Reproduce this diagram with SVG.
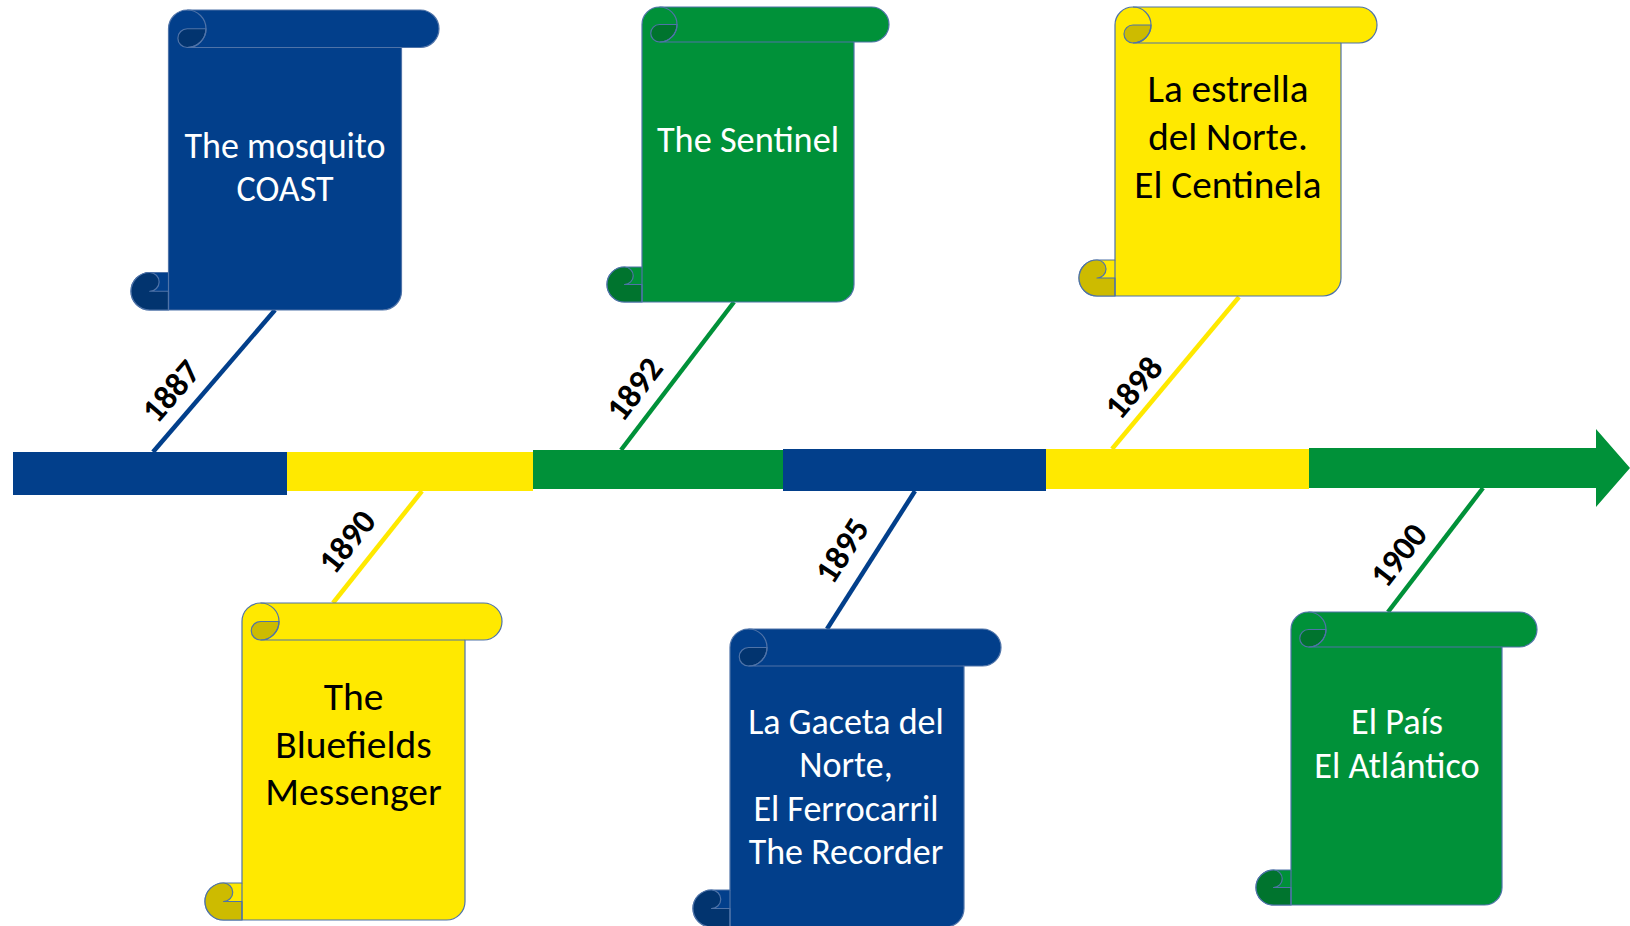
<svg xmlns="http://www.w3.org/2000/svg" width="1630" height="926" viewBox="0 0 1630 926">
<style>
.txt{font-family:Carlito,Lato,"Open Sans",sans-serif;text-anchor:middle}
.w{fill:#FFFFFF}
.k{fill:#000000}
.yr{font-family:Carlito,Lato,"Open Sans",sans-serif;font-size:34px;font-weight:bold;fill:#000;text-anchor:middle;dominant-baseline:central}
.ol{stroke:#4F73A8;stroke-width:1.2;stroke-linejoin:round}
.det{fill:none;stroke:#4F73A8;stroke-width:1.2}
.blue{fill:#023F8B}.blueD{fill:#02346F}
.yel{fill:#FFE900}.yelD{fill:#CDBB00}
.grn{fill:#009139}.grnD{fill:#00742E}
.cn{stroke-width:4.5;stroke-linecap:butt;fill:none}
</style>
<rect width="1630" height="926" fill="#FFFFFF"/>
<g id="connectors">
<line class="cn" x1="153" y1="452" x2="275" y2="310" stroke="#023F8B"/>
<line class="cn" x1="422" y1="491" x2="333" y2="603" stroke="#FFE900"/>
<line class="cn" x1="621" y1="450" x2="734" y2="302" stroke="#009139"/>
<line class="cn" x1="915" y1="491" x2="827" y2="629" stroke="#023F8B"/>
<line class="cn" x1="1112" y1="449" x2="1239" y2="297" stroke="#FFE900"/>
<line class="cn" x1="1483" y1="488" x2="1388" y2="612" stroke="#009139"/>
<text class="yr" x="171" y="391" transform="rotate(-49.3 171 391)">1887</text>
<text class="yr" x="347" y="541.5" transform="rotate(-51.5 347 541.5)">1890</text>
<text class="yr" x="634.5" y="389" transform="rotate(-52.6 634.5 389)">1892</text>
<text class="yr" x="842" y="550.5" transform="rotate(-57 842 550.5)">1895</text>
<text class="yr" x="1133.5" y="387.5" transform="rotate(-50 1133.5 387.5)">1898</text>
<text class="yr" x="1398.5" y="555" transform="rotate(-52.3 1398.5 555)">1900</text>
</g>
<g id="timeline">
<rect x="13" y="452" width="274" height="43" class="blue"/>
<rect x="287" y="452" width="246" height="39" class="yel"/>
<rect x="533" y="450" width="250" height="39" class="grn"/>
<rect x="783" y="449" width="263" height="42" class="blue"/>
<rect x="1046" y="449" width="263" height="40" class="yel"/>
<path d="M1309,448 L1596,448 L1596,429 L1630,468 L1596,507 L1596,488 L1309,488 Z" class="grn"/>
</g>
<g id="node-1887" transform="translate(131,10)">
<path class="blue ol" d="M37.5,262.5 L37.5,18.75 A18.75,18.75 0 0 1 56.25,0 L289.25,0 A18.75,18.75 0 0 1 289.25,37.5 L270.5,37.5 L270.5,281.25 A18.75,18.75 0 0 1 251.75,300 L18.75,300 A18.75,18.75 0 0 1 18.75,262.5 Z"/>
<path class="blueD ol" d="M18.75,262.5 A9.375,9.375 0 0 1 18.75,281.25 L37.5,281.25 L37.5,300 L18.75,300 A18.75,18.75 0 0 1 18.75,262.5 Z"/>
<path class="blueD ol" d="M75,18.75 A18.75,18.75 0 0 1 56.25,37.5 A9.375,9.375 0 0 1 56.25,18.75 Z"/>
<path class="det" d="M56.25,0 A18.75,18.75 0 0 1 56.25,37.5 M56.25,37.5 L270.5,37.5 M37.5,262.5 L37.5,300"/>
<text class="txt w" font-size="36" x="154" y="148">The mosquito</text>
<text class="txt w" font-size="36" x="154" y="191">COAST</text>
</g>
<g id="node-1890" transform="translate(205,603)">
<path class="yel ol" d="M37,280 L37,18.5 A18.5,18.5 0 0 1 55.5,0 L278.5,0 A18.5,18.5 0 0 1 278.5,37 L260,37 L260,298.5 A18.5,18.5 0 0 1 241.5,317 L18.5,317 A18.5,18.5 0 0 1 18.5,280 Z"/>
<path class="yelD ol" d="M18.5,280 A9.25,9.25 0 0 1 18.5,298.5 L37,298.5 L37,317 L18.5,317 A18.5,18.5 0 0 1 18.5,280 Z"/>
<path class="yelD ol" d="M74,18.5 A18.5,18.5 0 0 1 55.5,37 A9.25,9.25 0 0 1 55.5,18.5 Z"/>
<path class="det" d="M55.5,0 A18.5,18.5 0 0 1 55.5,37 M55.5,37 L260,37 M37,280 L37,317"/>
<text class="txt k" font-size="39.5" x="148.5" y="107">The</text>
<text class="txt k" font-size="39.5" x="148.5" y="154.5">Bluefields</text>
<text class="txt k" font-size="39.5" x="148.5" y="202">Messenger</text>
</g>
<g id="node-1892" transform="translate(607,7)">
<path class="grn ol" d="M35,260 L35,17.5 A17.5,17.5 0 0 1 52.5,0 L264.5,0 A17.5,17.5 0 0 1 264.5,35 L247,35 L247,277.5 A17.5,17.5 0 0 1 229.5,295 L17.5,295 A17.5,17.5 0 0 1 17.5,260 Z"/>
<path class="grnD ol" d="M17.5,260 A8.75,8.75 0 0 1 17.5,277.5 L35,277.5 L35,295 L17.5,295 A17.5,17.5 0 0 1 17.5,260 Z"/>
<path class="grnD ol" d="M70,17.5 A17.5,17.5 0 0 1 52.5,35 A8.75,8.75 0 0 1 52.5,17.5 Z"/>
<path class="det" d="M52.5,0 A17.5,17.5 0 0 1 52.5,35 M52.5,35 L247,35 M35,260 L35,295"/>
<text class="txt w" font-size="36.3" x="141" y="145">The Sentinel</text>
</g>
<g id="node-1895" transform="translate(693,629)">
<path class="blue ol" d="M37,261 L37,18.5 A18.5,18.5 0 0 1 55.5,0 L289.5,0 A18.5,18.5 0 0 1 289.5,37 L271,37 L271,279.5 A18.5,18.5 0 0 1 252.5,298 L18.5,298 A18.5,18.5 0 0 1 18.5,261 Z"/>
<path class="blueD ol" d="M18.5,261 A9.25,9.25 0 0 1 18.5,279.5 L37,279.5 L37,298 L18.5,298 A18.5,18.5 0 0 1 18.5,261 Z"/>
<path class="blueD ol" d="M74,18.5 A18.5,18.5 0 0 1 55.5,37 A9.25,9.25 0 0 1 55.5,18.5 Z"/>
<path class="det" d="M55.5,0 A18.5,18.5 0 0 1 55.5,37 M55.5,37 L271,37 M37,261 L37,298"/>
<text class="txt w" font-size="36" x="153" y="105">La Gaceta del</text>
<text class="txt w" font-size="36" x="153" y="148">Norte,</text>
<text class="txt w" font-size="36" x="153" y="192">El Ferrocarril</text>
<text class="txt w" font-size="36" x="153" y="235">The Recorder</text>
</g>
<g id="node-1898" transform="translate(1079,7)">
<path class="yel ol" d="M36,253 L36,18 A18,18 0 0 1 54,0 L280,0 A18,18 0 0 1 280,36 L262,36 L262,271 A18,18 0 0 1 244,289 L18,289 A18,18 0 0 1 18,253 Z"/>
<path class="yelD ol" d="M18,253 A9,9 0 0 1 18,271 L36,271 L36,289 L18,289 A18,18 0 0 1 18,253 Z"/>
<path class="yelD ol" d="M72,18 A18,18 0 0 1 54,36 A9,9 0 0 1 54,18 Z"/>
<path class="det" d="M54,0 A18,18 0 0 1 54,36 M54,36 L262,36 M36,253 L36,289"/>
<text class="txt k" font-size="39.2" x="149" y="95">La estrella</text>
<text class="txt k" font-size="39.2" x="149" y="143">del Norte.</text>
<text class="txt k" font-size="39.2" x="149" y="191">El Centinela</text>
</g>
<g id="node-1900" transform="translate(1256,612)">
<path class="grn ol" d="M35,258 L35,17.5 A17.5,17.5 0 0 1 52.5,0 L263.5,0 A17.5,17.5 0 0 1 263.5,35 L246,35 L246,275.5 A17.5,17.5 0 0 1 228.5,293 L17.5,293 A17.5,17.5 0 0 1 17.5,258 Z"/>
<path class="grnD ol" d="M17.5,258 A8.75,8.75 0 0 1 17.5,275.5 L35,275.5 L35,293 L17.5,293 A17.5,17.5 0 0 1 17.5,258 Z"/>
<path class="grnD ol" d="M70,17.5 A17.5,17.5 0 0 1 52.5,35 A8.75,8.75 0 0 1 52.5,17.5 Z"/>
<path class="det" d="M52.5,0 A17.5,17.5 0 0 1 52.5,35 M52.5,35 L246,35 M35,258 L35,293"/>
<text class="txt w" font-size="36.3" x="141" y="122">El País</text>
<text class="txt w" font-size="36.3" x="141" y="166">El Atlántico</text>
</g>
</svg>
